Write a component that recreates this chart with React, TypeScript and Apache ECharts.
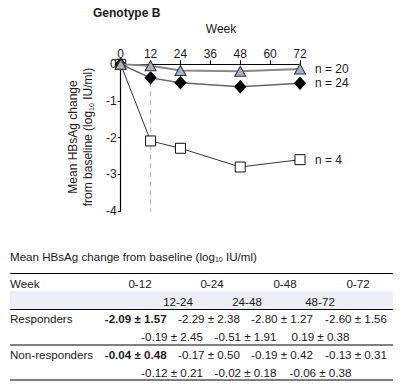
import React, { useEffect, useRef } from "react";
import * as echarts from "echarts";

const weeks = [0, 12, 24, 48, 72];
const nonResponders = [0, -0.04, -0.17, -0.19, -0.13];
const allPatients = [0, -0.37, -0.5, -0.61, -0.52];
const responders = [0, -2.09, -2.29, -2.8, -2.6];
const seriesLabels = ["n = 20", "n = 24", "n = 4"];
const xTicks = [0, 12, 24, 36, 48, 60, 72];

const tablePeriods = ["0-12", "0-24", "0-48", "0-72"];
const tableSubPeriods = ["12-24", "24-48", "48-72"];
const respCum = ["-2.09 ± 1.57", "-2.29 ± 2.38", "-2.80 ± 1.27", "-2.60 ± 1.56"];
const respInt = ["-0.19 ± 2.45", "-0.51 ± 1.91", "0.19 ± 0.38"];
const nonRespCum = ["-0.04 ± 0.48", "-0.17 ± 0.50", "-0.19 ± 0.42", "-0.13 ± 0.31"];
const nonRespInt = ["-0.12 ± 0.21", "-0.02 ± 0.18", "-0.06 ± 0.38"];

const FONT = "'Liberation Sans', Arial, sans-serif";
const TXT = "#1a1a1a";
const TFS = 11.6;

export default function App() {
  const ref = useRef<HTMLDivElement>(null);
  useEffect(() => {
    const chart = echarts.init(ref.current!, null, { renderer: "svg" });
    const cumX = [140, 212, 285, 358];
    const subX = [178, 247, 320];
    const cumValX = [135.7, 209, 282, 356];
    const intValX = [172, 245.5, 320.5];
    const t = (text: string, x: number, y: number, opts: any = {}) => ({
      type: "text",
      x,
      y,
      style: {
        text,
        fontFamily: FONT,
        fontSize: opts.size || TFS,
        fill: TXT,
        textAlign: opts.align || "center",
        textVerticalAlign: "middle",
        fontWeight: opts.bold ? "bold" : "normal",
      },
    });
    const hline = (y: number) => ({
      type: "line",
      shape: { x1: 10, y1: y, x2: 393, y2: y },
      style: { stroke: "#000", lineWidth: 1 },
    });
    const graphics: any[] = [
      t("Genotype B", 93, 13, { align: "left", bold: true, size: 12 }),
      t("Week", 221, 29, { size: 12 }),
      {
        type: "text",
        x: 73,
        y: 137,
        rotation: Math.PI / 2,
        style: { text: "Mean HBsAg change", fontFamily: FONT, fontSize: 12, fill: TXT, textAlign: "center", textVerticalAlign: "middle" },
      },
      {
        type: "text",
        x: 88,
        y: 137,
        rotation: Math.PI / 2,
        style: {
          text: "from baseline (log{s|10} IU/ml)",
          fontFamily: FONT,
          fontSize: 12,
          fill: TXT,
          textAlign: "center",
          textVerticalAlign: "middle",
          rich: { s: { fontSize: 7, fontFamily: FONT, fill: TXT, padding: [6, 0, 0, 0] } },
        },
      },
      {
        type: "text",
        x: 10,
        y: 256,
        style: {
          text: "Mean HBsAg change from baseline (log{s|10} IU/ml)",
          fontFamily: FONT,
          fontSize: TFS,
          fill: TXT,
          textAlign: "left",
          textVerticalAlign: "middle",
          rich: { s: { fontSize: 7, fontFamily: FONT, fill: TXT, padding: [6, 0, 0, 0] } },
        },
      },
      { type: "rect", shape: { x: 10, y: 291, width: 383, height: 18 }, style: { fill: "#eeeef6" } },
      hline(273.5),
      hline(309.5),
      hline(345),
      hline(380),
      t("Week", 10, 283, { align: "left" }),
      t("Responders", 10, 318.5, { align: "left" }),
      t("Non-responders", 10, 354, { align: "left" }),
    ];
    tablePeriods.forEach((p, i) => graphics.push(t(p, cumX[i], 283)));
    tableSubPeriods.forEach((p, i) => graphics.push(t(p, subX[i], 301)));
    respCum.forEach((v, i) => graphics.push(t(v, cumValX[i], 318.5, { bold: i === 0 })));
    respInt.forEach((v, i) => graphics.push(t(v, intValX[i], 336)));
    nonRespCum.forEach((v, i) => graphics.push(t(v, cumValX[i], 354, { bold: i === 0 })));
    nonRespInt.forEach((v, i) => graphics.push(t(v, intValX[i], 372)));

    const mk = (vals: number[]) => weeks.map((w, i) => [w, vals[i]]);
    const endLabel = (text: string) => ({
      show: true,
      formatter: text,
      distance: 15,
      color: TXT,
      fontFamily: FONT,
      fontSize: 12,
    });

    chart.setOption({
      animation: false,
      grid: { left: 120.7, top: 64.3, width: 179.3, height: 146.7 },
      xAxis: {
        type: "value",
        position: "top",
        min: 0,
        max: 72,
        interval: 12,
        axisLine: { onZero: false, lineStyle: { color: "#000", width: 1.2 } },
        axisTick: { show: true, length: 4, lineStyle: { color: "#000" } },
        axisLabel: { color: TXT, fontFamily: FONT, fontSize: 12, margin: 4, formatter: (v: number) => (xTicks.includes(v) ? String(v) : "") },
        splitLine: { show: false },
      },
      yAxis: {
        type: "value",
        min: -4,
        max: 0,
        interval: 1,
        axisLine: { show: true, onZero: false, lineStyle: { color: "#000", width: 1.2 } },
        axisTick: { show: true, length: 3, lineStyle: { color: "#000" } },
        axisLabel: { color: TXT, fontFamily: FONT, fontSize: 12, margin: 4 },
        splitLine: { show: false },
      },
      graphic: graphics,
      series: [
        {
          type: "line",
          data: [[12, 0], [12, -4]],
          symbol: "none",
          lineStyle: { color: "#aaa", width: 1, type: [5, 4] },
          silent: true,
          z: 1,
        },
        {
          type: "line",
          data: mk(responders),
          symbol: "rect",
          symbolSize: 10,
          itemStyle: { color: "#fff", borderColor: "#111", borderWidth: 1 },
          lineStyle: { color: "#333", width: 1 },
          endLabel: endLabel(seriesLabels[2]),
          z: 2,
        },
        {
          type: "line",
          data: mk(allPatients),
          symbol: "diamond",
          symbolSize: [11, 12],
          itemStyle: { color: "#000", borderColor: "#000", borderWidth: 1 },
          lineStyle: { color: "#666", width: 1.5 },
          endLabel: endLabel(seriesLabels[1]),
          z: 3,
        },
        {
          type: "line",
          data: mk(nonResponders),
          symbol: "triangle",
          symbolSize: [11, 10],
          itemStyle: { color: "#a7b0c4", borderColor: "#333", borderWidth: 1 },
          lineStyle: { color: "#888", width: 2 },
          endLabel: endLabel(seriesLabels[0]),
          z: 4,
        },
      ],
    });
    return () => chart.dispose();
  }, []);
  return <div ref={ref} style={{ position: "fixed", left: 0, top: 0, width: 403, height: 389, background: "#fff" }} />;
}
